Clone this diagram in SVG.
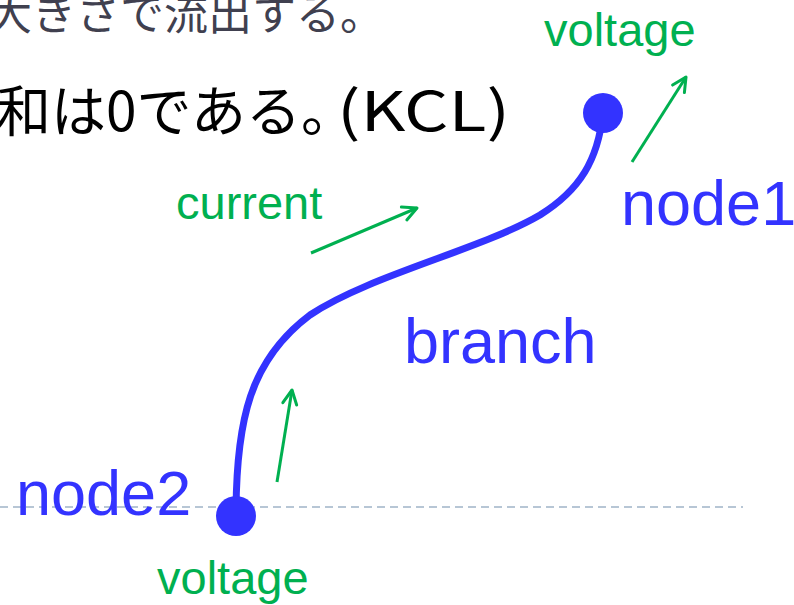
<svg xmlns="http://www.w3.org/2000/svg" width="794" height="605" viewBox="0 0 794 605">
  <defs>
    <marker id="ah" viewBox="0 0 20 20" refX="17" refY="10" markerWidth="20" markerHeight="20" markerUnits="userSpaceOnUse" orient="auto">
      <path d="M3,3 L17,10 L3,17" fill="none" stroke="#00b050" stroke-width="3" stroke-linecap="round" stroke-linejoin="round"/>
    </marker>
  </defs>
  <style>
    .jp1 { font-family: "Noto Sans CJK JP", "Noto Sans", sans-serif; font-size: 44px; fill: #40404f; }
    .jp2 { font-family: "Noto Sans CJK JP", "Noto Sans", sans-serif; font-size: 55px; fill: #000000; }
    .blue { font-family: "Liberation Sans", Arial, sans-serif; font-size: 63px; fill: #3333ff; }
    .green { font-family: "Liberation Sans", Arial, sans-serif; font-size: 47px; fill: #00b050; }
    .arrow { stroke: #00b050; stroke-width: 3; fill: none; marker-end: url(#ah); }
  </style>
  <rect width="794" height="605" fill="#ffffff"/>
  <g id="heading">
    <text class="jp1" x="384" y="30" text-anchor="end">大きさで流出する。</text>
    <text class="jp2" x="-4" y="131">和は0である。<tspan x="337" textLength="173" lengthAdjust="spacingAndGlyphs">(KCL)</tspan></text>
  </g>
  <line id="baseline" x1="0" y1="507" x2="743" y2="507" stroke="#a0b4c8" stroke-width="1.5" stroke-dasharray="8 5"/>
  <g id="connectors">
    <path id="branch-edge" d="M236,516 C236,420 250,360 310,315 C370,275 480,250 540,215 C580,190 598,160 603,113" fill="none" stroke="#3333ff" stroke-width="7"/>
    <line class="arrow" x1="632" y1="162" x2="686" y2="77"/>
    <line class="arrow" x1="311" y1="253" x2="417" y2="208"/>
    <line class="arrow" x1="277" y1="482" x2="292" y2="390"/>
  </g>
  <g id="node1">
    <circle cx="603" cy="113" r="20" fill="#3333ff"/>
    <text class="blue" x="621" y="225">node1</text>
  </g>
  <g id="node2">
    <circle cx="236" cy="516" r="20" fill="#3333ff"/>
    <text class="blue" x="16" y="515">node2</text>
  </g>
  <g id="branch">
    <text class="blue" x="404" y="363">branch</text>
  </g>
  <g id="labels">
    <text class="green" x="544" y="46">voltage</text>
    <text class="green" x="176" y="219">current</text>
    <text class="green" x="157" y="594">voltage</text>
  </g>
</svg>
